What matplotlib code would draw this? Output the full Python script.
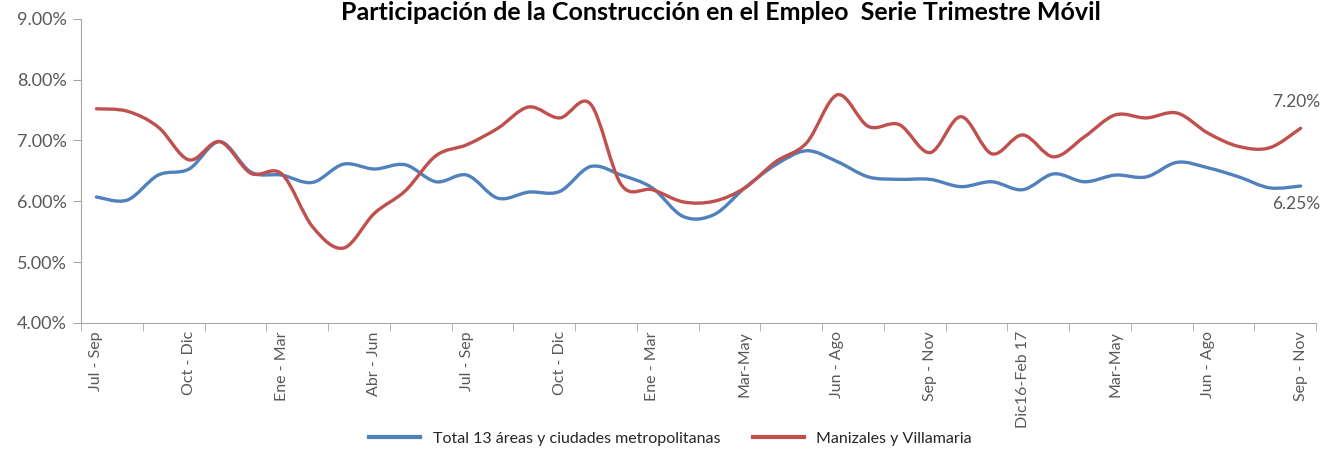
import numpy as np
import matplotlib
matplotlib.use("Agg")
import matplotlib.pyplot as plt
from matplotlib.path import Path
from matplotlib.patches import PathPatch

# Etiquetas del eje x (una cada 3 trimestres moviles)
etiquetas = ["Jul - Sep", "Oct - Dic", "Ene - Mar", "Abr - Jun", "Jul - Sep",
             "Oct - Dic", "Ene - Mar", "Mar-May", "Jun - Ago", "Sep - Nov",
             "Dic16-Feb 17", "Mar-May", "Jun - Ago", "Sep - Nov"]

# Participacion (%) - Total 13 areas
total_13 = [6.07, 6.02, 6.43, 6.53, 6.98, 6.48, 6.43, 6.31, 6.61, 6.53,
            6.60, 6.32, 6.43, 6.05, 6.15, 6.16, 6.57, 6.43, 6.22, 5.75,
            5.78, 6.22, 6.60, 6.83, 6.65, 6.40, 6.36, 6.36, 6.24, 6.32,
            6.19, 6.45, 6.32, 6.43, 6.40, 6.64, 6.55, 6.40, 6.22, 6.25]

# Participacion (%) - Manizales y Villamaria
manizales = [7.52, 7.48, 7.22, 6.68, 6.98, 6.46, 6.45, 5.58, 5.23, 5.80,
             6.17, 6.75, 6.93, 7.20, 7.55, 7.37, 7.60, 6.27, 6.19, 5.99,
             6.00, 6.22, 6.65, 6.96, 7.75, 7.23, 7.26, 6.80, 7.39, 6.78,
             7.09, 6.73, 7.06, 7.42, 7.37, 7.45, 7.12, 6.90, 6.88, 7.20]


def curva_suave(x, y):
    """Camino Bezier tipo Catmull-Rom (linea suavizada como en Excel)."""
    p = np.column_stack([x, y])
    n = len(p)
    verts = [p[0]]
    codes = [Path.MOVETO]
    for i in range(n - 1):
        p0 = p[i - 1] if i > 0 else p[i]
        p3 = p[i + 2] if i + 2 < n else p[i + 1]
        c1 = p[i] + (p[i + 1] - p0) / 6
        c2 = p[i + 1] - (p3 - p[i]) / 6
        verts += [c1, c2, p[i + 1]]
        codes += [Path.CURVE4] * 3
    return Path(verts, codes)


plt.rcParams['font.family'] = ['Lato', 'DejaVu Sans']
gris = "#595959"
azul = "#4F81BD"
rojo = "#C0504D"

fig = plt.figure(figsize=(13.28, 4.58), dpi=100)
ax = fig.add_axes([0.061, 0.295, 0.930, 0.664])

x = np.arange(len(total_13))
ax.add_patch(PathPatch(curva_suave(x, total_13), fill=False, edgecolor=azul,
                       lw=2.4, capstyle="round"))
ax.add_patch(PathPatch(curva_suave(x, manizales), fill=False, edgecolor=rojo,
                       lw=2.4, capstyle="round"))
# lineas vacias para la leyenda
ax.plot([], [], color=azul, lw=3, label="Total 13 áreas y ciudades metropolitanas")
ax.plot([], [], color=rojo, lw=3, label="Manizales y Villamaria")

ax.set_xlim(-0.5, len(x) - 0.5)
ax.set_ylim(4, 9)
ax.set_yticks(np.arange(4, 9.01, 1))
ax.set_yticklabels([f"{v:.2f}%" for v in np.arange(4, 9.01, 1)])

pos = np.arange(0, len(x), 3)
ax.set_xticks(pos)
ax.set_xticklabels(etiquetas, rotation=90)
ax.set_xticks(np.arange(-0.5, len(x), 2), minor=True)
ax.tick_params(axis="x", which="major", length=0, pad=6, labelsize=11.5, labelcolor=gris)
ax.tick_params(axis="x", which="minor", length=6, color="#A6A6A6", direction="out")
ax.tick_params(axis="y", length=6, color="#A6A6A6", labelsize=13, labelcolor=gris, pad=4)

for s in ["top", "right"]:
    ax.spines[s].set_visible(False)
for s in ["left", "bottom"]:
    ax.spines[s].set_color("#A6A6A6")

ax.annotate(f"{manizales[-1]:.2f}%", (x[-1], manizales[-1]), xytext=(-3, 13),
            textcoords="offset points", fontsize=12.5, color=gris, va="bottom",
            ha="center", annotation_clip=False)
ax.annotate(f"{total_13[-1]:.2f}%", (x[-1], total_13[-1]), xytext=(-3, -7),
            textcoords="offset points", fontsize=12.5, color=gris, va="top",
            ha="center", annotation_clip=False)

fig.text(0.543, 0.997, "Participación de la Construcción en el Empleo  Serie Trimestre Móvil",
         ha="center", va="top", fontsize=18, fontweight="bold", color="black")

fig.legend(loc="lower center", bbox_to_anchor=(0.505, -0.005), ncol=2, frameon=False,
           fontsize=11.5, handlelength=3.2, columnspacing=2.0, labelcolor="#262626")

fig.savefig("out.png", dpi=100)
